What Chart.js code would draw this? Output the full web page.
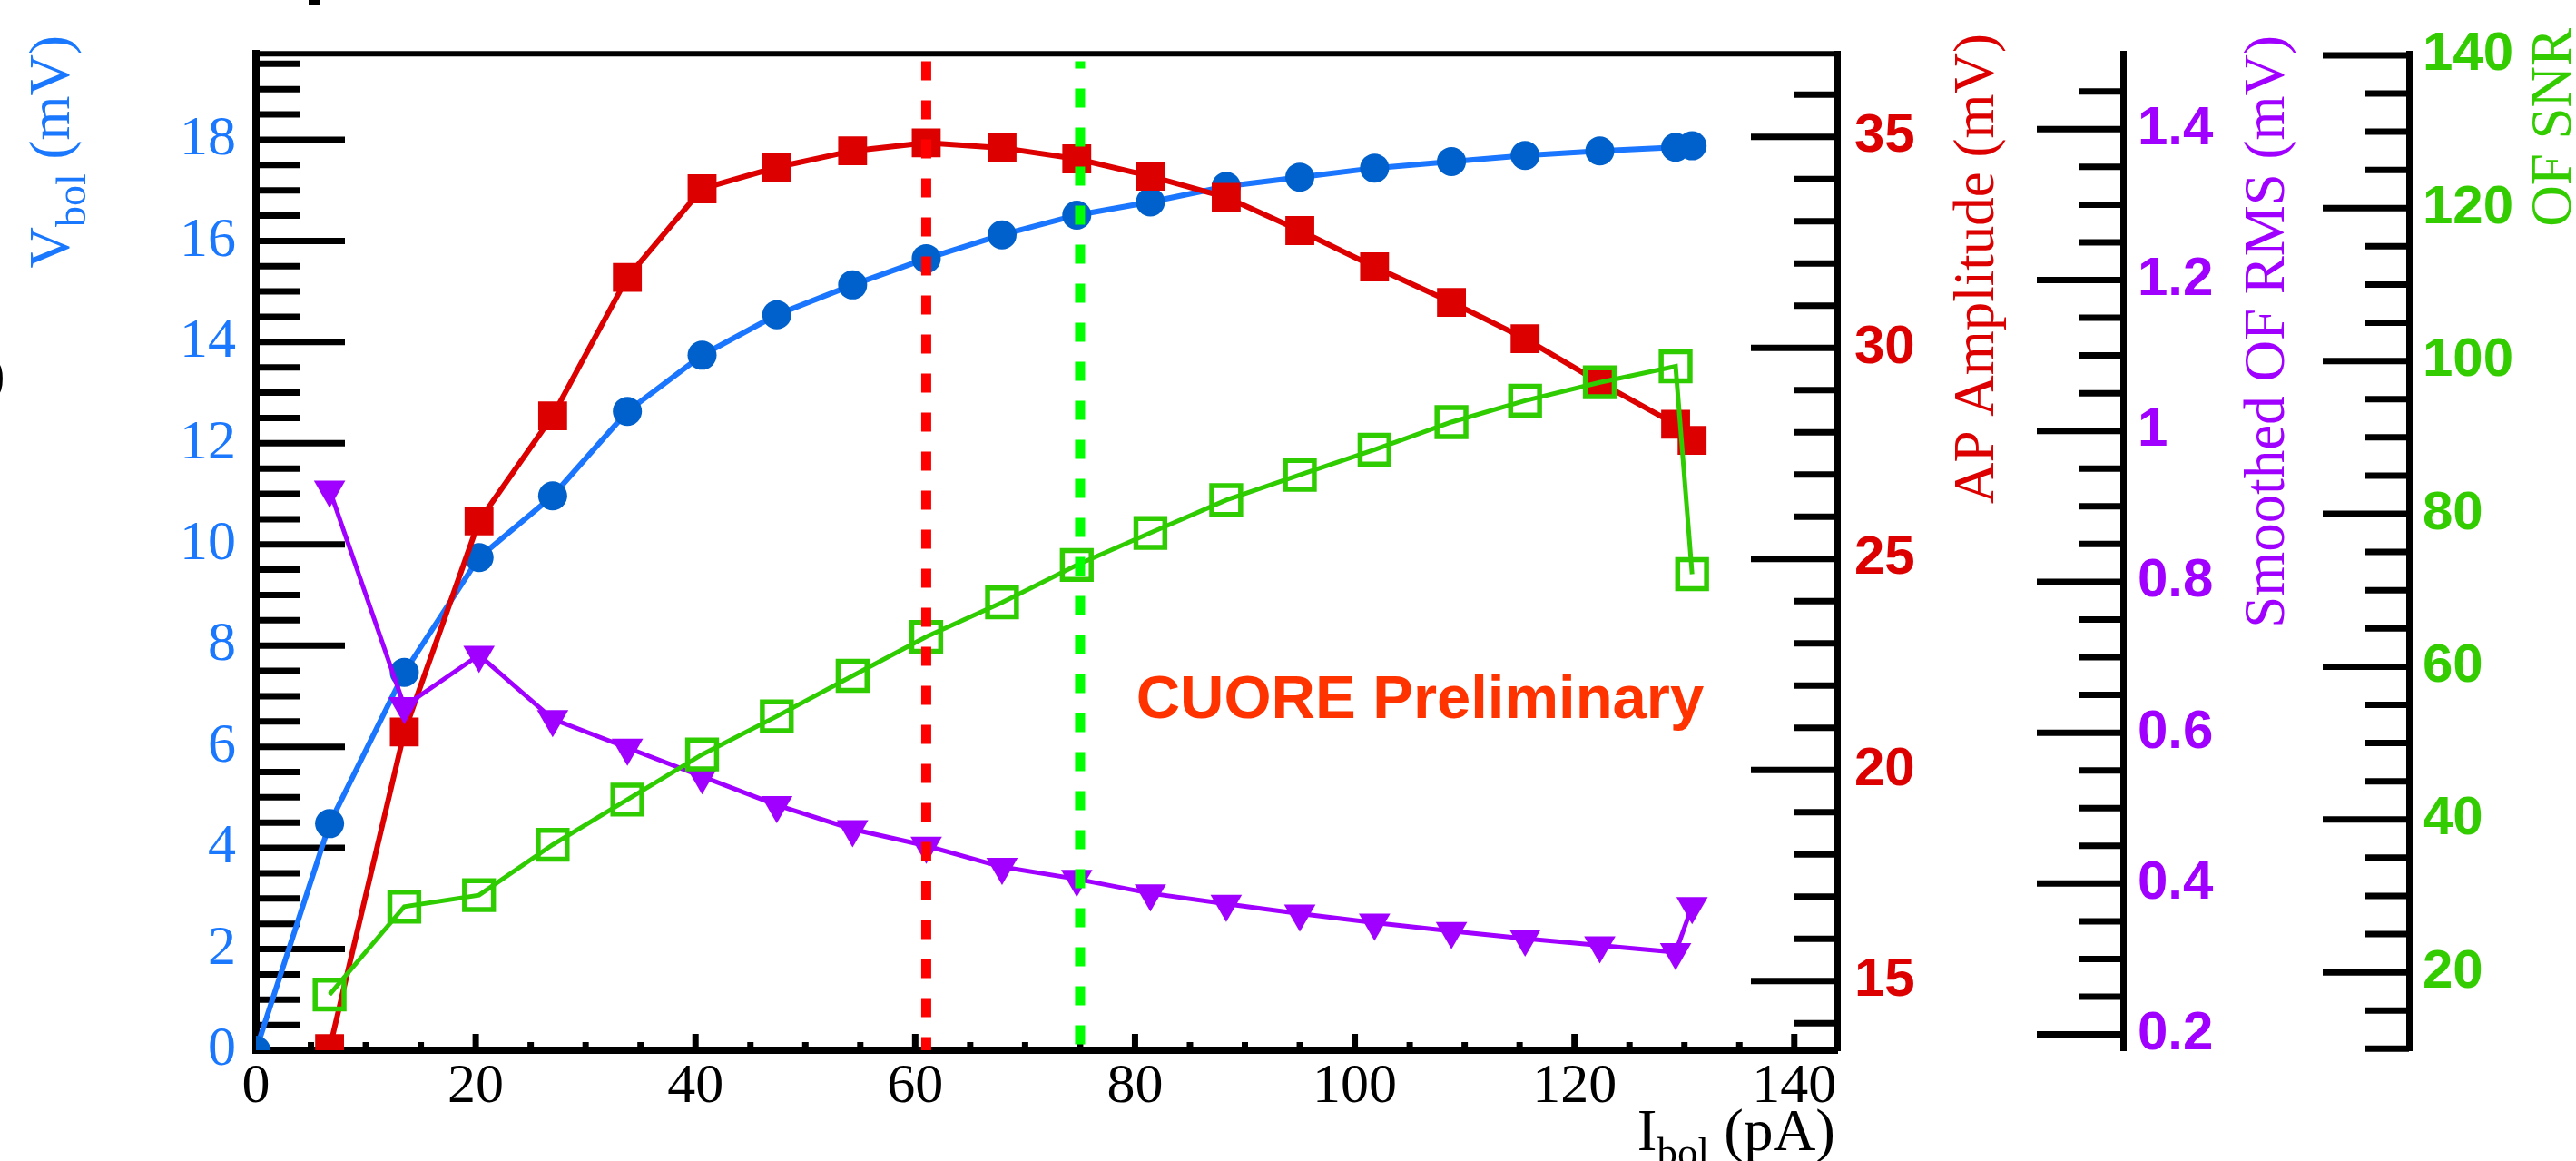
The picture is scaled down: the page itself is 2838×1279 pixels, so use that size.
<!DOCTYPE html>
<html>
<head>
<meta charset="utf-8">
<script src="https://cdn.jsdelivr.net/npm/chart.js@4.4.1/dist/chart.umd.min.js"></script>
<style>
  html, body { margin: 0; padding: 0; background: #ffffff; }
  #grafica { display: block; }
</style>
</head>
<body>
<canvas id="grafica" width="2838" height="1279"></canvas>
<script>
// I_bol (pA) de cada punto de trabajo
var corriente = [0, 6.7, 13.5, 20.3, 27.0, 33.8, 40.6, 47.4, 54.3, 61.0, 67.9, 74.7, 81.4, 88.3, 95.0, 101.8, 108.8, 115.5, 122.3, 129.2, 130.7];
// V_bol (mV), eje izquierdo
var vbol = [0.0, 4.48, 7.47, 9.74, 10.96, 12.63, 13.74, 14.54, 15.13, 15.65, 16.12, 16.51, 16.77, 17.08, 17.26, 17.44, 17.57, 17.69, 17.78, 17.85, 17.88];
// las otras tres series empiezan en el segundo punto
var amplitudAP = [13.4, 20.9, 25.9, 28.39, 31.67, 33.77, 34.28, 34.67, 34.86, 34.74, 34.48, 34.07, 33.57, 32.78, 31.92, 31.08, 30.22, 29.18, 28.19, 27.81];
var rmsOF = [0.922, 0.635, 0.703, 0.618, 0.580, 0.542, 0.504, 0.472, 0.450, 0.422, 0.406, 0.387, 0.373, 0.360, 0.348, 0.337, 0.327, 0.318, 0.309, 0.370];
var snrOF = [17.1, 28.6, 30.1, 36.7, 42.6, 48.5, 53.5, 58.8, 63.9, 68.4, 73.3, 77.5, 81.8, 85.1, 88.4, 92.0, 94.8, 97.2, 99.3, 72.1];
// corrientes optimas marcadas con lineas a trazos
var optimoAP = 61;
var optimoSNR = 75;

var serif = "'Liberation Serif', 'Times New Roman', serif";
var sans = "'Liberation Sans', Arial, sans-serif";
var azul = '#1a78ff', rojo = '#dd0000', morado = '#a000ff', verde = '#33cc00';

function puntos(xs, ys) {
    return ys.map(function (y, i) { return { x: xs[i], y: y }; });
}
var corrienteResto = corriente.slice(1);

function etiqueta(v) {
    return String(Math.round(v * 100) / 100);
}

function marcas(ctx, escala, desde, hasta, paso, subpaso, largo, corto) {
    var n = Math.round((hasta - desde) / subpaso);
    for (var i = 0; i <= n; i++) {
        var v = desde + i * subpaso;
        var mayor = Math.abs(v / paso - Math.round(v / paso)) < 1e-6;
        var len = mayor ? largo : corto;
        var p = escala.getPixelForValue(v);
        ctx.beginPath();
        if (escala.isHorizontal()) {
            ctx.moveTo(p, escala.top);
            ctx.lineTo(p, escala.top - len);
        } else if (escala.position === 'left') {
            ctx.moveTo(escala.right, p);
            ctx.lineTo(escala.right + len, p);
        } else {
            ctx.moveTo(escala.left, p);
            ctx.lineTo(escala.left - len, p);
        }
        ctx.stroke();
    }
}

// texto con subindices; partes = [texto, tamaño, desplazamiento]
function textoRico(ctx, partes, x, y, color, vertical) {
    ctx.save();
    ctx.translate(x, y);
    if (vertical) ctx.rotate(-Math.PI / 2);
    ctx.fillStyle = color;
    ctx.textBaseline = 'alphabetic';
    ctx.textAlign = 'left';
    var total = 0;
    partes.forEach(function (p) {
        ctx.font = p[1] + 'px ' + serif;
        total += ctx.measureText(p[0]).width;
    });
    var cx = -total;
    partes.forEach(function (p) {
        ctx.font = p[1] + 'px ' + serif;
        ctx.fillText(p[0], cx, p[2]);
        cx += ctx.measureText(p[0]).width;
    });
    ctx.restore();
}

var ejesRoot = {
    id: 'ejesRoot',
    beforeDatasetsDraw: function (chart) {
        var ctx = chart.ctx, area = chart.chartArea, s = chart.scales;
        ctx.save();
        ctx.strokeStyle = '#000';
        ctx.lineCap = 'butt';
        ctx.lineWidth = 6;
        ctx.beginPath();
        ctx.moveTo(area.left - 4, area.top);
        ctx.lineTo(area.right + 4, area.top);
        ctx.stroke();
        ctx.lineWidth = 7;
        marcas(ctx, s.x, 5, 140, 20, 5, 18, 9);
        marcas(ctx, s.y, 0.5, 19.5, 2, 0.5, 98, 49);
        marcas(ctx, s.yAP, 14, 36, 5, 1, 95, 47);
        marcas(ctx, s.yRMS, 0.2, 1.45, 0.2, 0.05, 95, 48);
        marcas(ctx, s.ySNR, 10, 140, 20, 5, 95, 48);
        ctx.restore();
    },
    afterDraw: function (chart) {
        var ctx = chart.ctx, s = chart.scales;
        textoRico(ctx, [['V', 63, 0], ['bol', 46, 18], [' (mV)', 63, 0]], 76, 39, azul, true);
        textoRico(ctx, [['AP Amplitude (mV)', 63, 0]], 2196, 37, rojo, true);
        textoRico(ctx, [['Smoothed OF RMS (mV)', 63, 0]], 2516, 39, morado, true);
        textoRico(ctx, [['OF SNR', 63, 0]], 2832, 31, verde, true);
        textoRico(ctx, [['I', 65, 0], ['bol', 45, 17], [' (pA)', 65, 0]], 2022, 1267, '#000', false);

        ctx.save();
        ctx.fillStyle = '#ff3300';
        ctx.font = 'bold 67px ' + sans;
        ctx.textBaseline = 'middle';
        ctx.textAlign = 'left';
        ctx.fillText('CUORE Preliminary', s.x.getPixelForValue(80.1), s.y.getPixelForValue(6.9));
        // restos de texto recortados en los bordes de la imagen
        ctx.fillStyle = '#000';
        ctx.font = '62px ' + serif;
        ctx.fillText(')', -15, 416);
        ctx.fillRect(340, 0, 12, 5);
        ctx.restore();
    }
};

var trazoComun = { showLine: true, fill: false, tension: 0 };

var datos = {
    datasets: [
        Object.assign({}, trazoComun, {
            label: 'optimo AP',
            data: [{ x: optimoAP, y: 19.55 }, { x: optimoAP, y: 0 }],
            yAxisID: 'y',
            borderColor: '#ff0000',
            borderWidth: 11,
            borderDash: [21, 22],
            pointRadius: 0
        }),
        Object.assign({}, trazoComun, {
            label: 'optimo SNR',
            data: [{ x: optimoSNR, y: 19.55 }, { x: optimoSNR, y: 0 }],
            yAxisID: 'y',
            borderColor: '#00ff00',
            borderWidth: 11,
            borderDash: [21, 22],
            borderDashOffset: 13,
            pointRadius: 0
        }),
        Object.assign({}, trazoComun, {
            label: 'OF SNR',
            data: puntos(corrienteResto, snrOF),
            yAxisID: 'ySNR',
            borderColor: '#2ecc00',
            borderWidth: 5,
            pointStyle: 'rect',
            pointRadius: 22.5,
            pointBorderWidth: 5.5,
            pointBorderColor: '#2ecc00',
            pointBackgroundColor: 'rgba(0,0,0,0)'
        }),
        Object.assign({}, trazoComun, {
            label: 'Smoothed OF RMS',
            data: puntos(corrienteResto, rmsOF),
            yAxisID: 'yRMS',
            borderColor: morado,
            borderWidth: 5,
            pointStyle: 'triangle',
            pointRotation: 180,
            pointRadius: 20,
            pointBorderWidth: 0,
            pointBackgroundColor: morado
        }),
        Object.assign({}, trazoComun, {
            label: 'AP Amplitude',
            data: puntos(corrienteResto, amplitudAP),
            yAxisID: 'yAP',
            borderColor: rojo,
            borderWidth: 6,
            pointStyle: 'rect',
            pointRadius: 22.5,
            pointBorderWidth: 0,
            pointBackgroundColor: rojo
        }),
        Object.assign({}, trazoComun, {
            label: 'V_bol',
            data: puntos(corriente, vbol),
            yAxisID: 'y',
            borderColor: '#1a75ff',
            borderWidth: 6,
            pointStyle: 'circle',
            pointRadius: 16,
            pointBorderWidth: 0,
            pointBackgroundColor: '#0060cc'
        })
    ]
};

function ejeY(posicion, peso, min, max, paso, color, fuente, relleno, ancho) {
    return {
        type: 'linear',
        position: posicion,
        weight: peso,
        min: min,
        max: max,
        grid: { display: false, drawTicks: false },
        border: { display: true, color: '#000', width: posicion === 'left' ? 8 : 7 },
        ticks: {
            stepSize: paso,
            includeBounds: false,
            autoSkip: false,
            padding: relleno,
            color: color,
            font: fuente,
            callback: etiqueta
        },
        afterFit: function (escala) { escala.width = ancho; }
    };
}

var fuenteSerif = { family: serif, size: 62 };
var fuenteNegrita = { family: sans, size: 60, weight: 'bold' };

var opciones = {
    responsive: false,
    animation: false,
    devicePixelRatio: 1,
    layout: { autoPadding: false, padding: { top: 33, left: 0, right: 0, bottom: 0 } },
    plugins: { legend: { display: false }, tooltip: { enabled: false } },
    scales: {
        x: {
            type: 'linear',
            position: 'bottom',
            min: 0,
            max: 143.9,
            grid: { display: false, drawTicks: false },
            border: { display: true, color: '#000', width: 8 },
            ticks: {
                stepSize: 20,
                includeBounds: false,
                autoSkip: false,
                maxRotation: 0,
                padding: 4,
                color: '#000',
                font: fuenteSerif,
                callback: etiqueta
            },
            afterFit: function (escala) { escala.height = 122; }
        },
        y: ejeY('left', 0, 0, 19.7, 2, azul, fuenteSerif, 22, 282),
        yAP: ejeY('right', 0, 13.36, 36.97, 5, rojo, fuenteNegrita, 19, 315),
        yRMS: ejeY('right', 1, 0.179, 1.5, 0.2, morado, fuenteNegrita, 16, 315),
        ySNR: ejeY('right', 2, 9.8, 140.2, 20, verde, fuenteNegrita, 15, 184)
    }
};

var ctx = document.getElementById('grafica').getContext('2d');
var grafica = new Chart(ctx, {
    type: 'scatter',
    data: datos,
    options: opciones,
    plugins: [ejesRoot]
});
</script>
</body>
</html>
